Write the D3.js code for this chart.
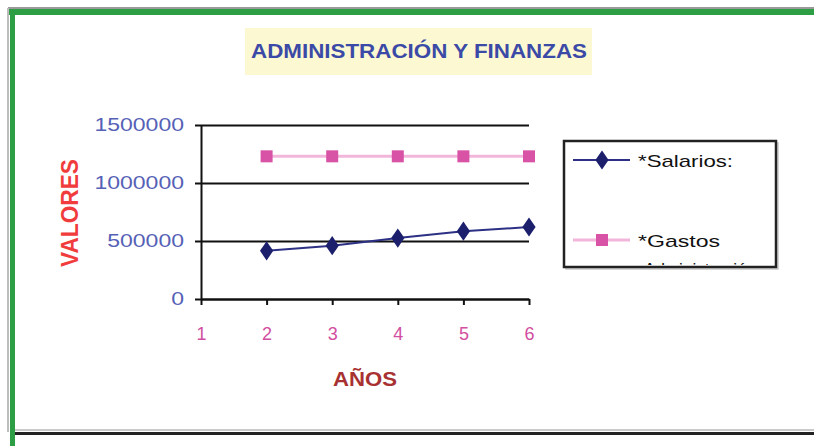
<!DOCTYPE html>
<meta charset="utf-8">
<script src="https://d3js.org/d3.v7.min.js"></script>
<style>
  body { margin: 0; background: #fff; }
  text { font-family: Arial, "Liberation Sans", sans-serif; }
</style>
<svg width="814" height="446"></svg>

<script>
// data
var years = [2, 3, 4, 5, 6];
var salarios = [415000, 460000, 525000, 585000, 620000];
var gastos = [1230000, 1230000, 1230000, 1230000, 1230000];
var seriesNames = ["*Salarios:", "*Gastos Administración"];
var yTicks = [0, 500000, 1000000, 1500000];
var xTicks = [1, 2, 3, 4, 5, 6];

var svg = d3.select("svg");

// outer frame (green on top/left, black at bottom)
svg.append("line").attr("x1", 8).attr("x2", 814).attr("y1", 8).attr("y2", 8)
    .attr("stroke", "#9a9a9a").attr("stroke-width", 2);
svg.append("line").attr("x1", 8).attr("x2", 8).attr("y1", 8).attr("y2", 432)
    .attr("stroke", "#bdbdbd").attr("stroke-width", 2);
svg.append("line").attr("x1", 15).attr("x2", 814).attr("y1", 430).attr("y2", 430)
    .attr("stroke", "#b8b8b8").attr("stroke-width", 1.5);
svg.append("line").attr("x1", 15).attr("x2", 814).attr("y1", 433.5).attr("y2", 433.5)
    .attr("stroke", "#222").attr("stroke-width", 3);
svg.append("line").attr("x1", 9).attr("x2", 814).attr("y1", 12).attr("y2", 12)
    .attr("stroke", "#2e9e44").attr("stroke-width", 6);
svg.append("line").attr("x1", 12.5).attr("x2", 12.5).attr("y1", 9).attr("y2", 446)
    .attr("stroke", "#2e9e44").attr("stroke-width", 5);

// title
svg.append("rect").attr("x", 245).attr("y", 28).attr("width", 347).attr("height", 47)
    .attr("fill", "#fbf8d2");
svg.append("text").attr("x", 419).attr("y", 58).attr("text-anchor", "middle")
    .attr("font-size", 21).attr("font-weight", "bold").attr("fill", "#3b4aa6")
    .attr("textLength", 336).attr("lengthAdjust", "spacingAndGlyphs")
    .text("ADMINISTRACIÓN Y FINANZAS");

var x = d3.scaleLinear().domain([1, 6]).range([201, 529]);
var y = d3.scaleLinear().domain([0, 1500000]).range([299, 125]);

// gridlines
svg.append("g")
    .attr("transform", "translate(201,0)")
    .call(d3.axisLeft(y).tickValues(yTicks).tickSize(-328).tickFormat(""))
    .call(function (g) {
        g.select(".domain").remove();
        g.selectAll("line").attr("stroke", "#111").attr("stroke-width", 2);
    });

// y axis
svg.append("g")
    .attr("transform", "translate(201,0)")
    .call(d3.axisLeft(y).tickValues(yTicks).tickSize(6).tickSizeOuter(0).tickPadding(11).tickFormat(d3.format("d")))
    .call(function (g) {
        g.select(".domain").attr("stroke", "#111").attr("stroke-width", 2);
        g.selectAll("line").attr("stroke", "#111").attr("stroke-width", 2);
        g.selectAll("text")
            .attr("font-size", 18).attr("fill", "#5661b6")
            .attr("font-family", "Arial, 'Liberation Sans', sans-serif")
            .attr("textLength", function (d) { return String(d).length * 12.8; })
            .attr("lengthAdjust", "spacingAndGlyphs");
    });

// x axis
svg.append("g")
    .attr("transform", "translate(0,299)")
    .call(d3.axisBottom(x).tickValues(xTicks).tickSize(6).tickSizeOuter(0).tickPadding(22).tickFormat(d3.format("d")))
    .call(function (g) {
        g.select(".domain").attr("stroke", "#111").attr("stroke-width", 2);
        g.selectAll("line").attr("stroke", "#111").attr("stroke-width", 2);
        g.selectAll("text")
            .attr("font-size", 18).attr("fill", "#d24ea0")
            .attr("font-family", "Arial, 'Liberation Sans', sans-serif");
    });

// axis titles
svg.append("text").attr("x", 365).attr("y", 386).attr("text-anchor", "middle")
    .attr("font-size", 20).attr("font-weight", "bold").attr("fill", "#a83232")
    .attr("textLength", 64).attr("lengthAdjust", "spacingAndGlyphs")
    .text("AÑOS");
svg.append("text")
    .attr("transform", "translate(78,213) rotate(-90)")
    .attr("text-anchor", "middle")
    .attr("font-size", 23).attr("font-weight", "bold").attr("fill", "#f03c3c")
    .attr("textLength", 108).attr("lengthAdjust", "spacingAndGlyphs")
    .text("VALORES");

// series
var line = d3.line().x(function (d) { return x(d[0]); }).y(function (d) { return y(d[1]); });
var gastoPts = years.map(function (yr, i) { return [yr, gastos[i]]; });
var salPts = years.map(function (yr, i) { return [yr, salarios[i]]; });

svg.append("path").datum(gastoPts).attr("d", line)
    .attr("fill", "none").attr("stroke", "#f2b6da").attr("stroke-width", 3);
svg.selectAll(".sq").data(gastoPts).enter().append("rect")
    .attr("x", function (d) { return x(d[0]) - 6; })
    .attr("y", function (d) { return y(d[1]) - 6; })
    .attr("width", 12).attr("height", 12).attr("fill", "#d852a6");

svg.append("path").datum(salPts).attr("d", line)
    .attr("fill", "none").attr("stroke", "#2d3185").attr("stroke-width", 2);
var diamond = d3.symbol().type(d3.symbolDiamond).size(105);
svg.selectAll(".dm").data(salPts).enter().append("path")
    .attr("d", diamond)
    .attr("transform", function (d) { return "translate(" + x(d[0]) + "," + y(d[1]) + ") scale(1.2,1)"; })
    .attr("fill", "#1b1f6c");

// legend
svg.append("rect").attr("x", 566).attr("y", 143).attr("width", 212).attr("height", 126)
    .attr("fill", "none").attr("stroke", "#c8c8c8").attr("stroke-width", 1.5);
svg.append("rect").attr("x", 564).attr("y", 141).attr("width", 212).attr("height", 126)
    .attr("fill", "#fff").attr("stroke", "#222").attr("stroke-width", 2.5);

svg.append("defs").append("clipPath").attr("id", "legclip")
    .append("rect").attr("x", 566).attr("y", 143).attr("width", 208).attr("height", 122);

var leg = svg.append("g").attr("clip-path", "url(#legclip)");

leg.append("line").attr("x1", 573).attr("x2", 630).attr("y1", 160).attr("y2", 160)
    .attr("stroke", "#2d3185").attr("stroke-width", 2);
leg.append("path").attr("d", diamond)
    .attr("transform", "translate(602,160) scale(1.2,1)").attr("fill", "#1b1f6c");
leg.append("text").attr("x", 638).attr("y", 167).attr("font-size", 17).attr("fill", "#111")
    .attr("textLength", 95).attr("lengthAdjust", "spacingAndGlyphs")
    .text(seriesNames[0]);

leg.append("line").attr("x1", 573).attr("x2", 630).attr("y1", 240).attr("y2", 240)
    .attr("stroke", "#f2b6da").attr("stroke-width", 3);
leg.append("rect").attr("x", 596).attr("y", 234).attr("width", 12).attr("height", 12)
    .attr("fill", "#d852a6");
var parts = seriesNames[1].split(" ");
leg.append("text").attr("x", 638).attr("y", 247).attr("font-size", 17).attr("fill", "#111")
    .attr("textLength", 82).attr("lengthAdjust", "spacingAndGlyphs")
    .text(parts[0]);
leg.append("text").attr("x", 644).attr("y", 275).attr("font-size", 17).attr("fill", "#111")
    .attr("textLength", 112).attr("lengthAdjust", "spacingAndGlyphs")
    .text(parts[1]);
</script>
